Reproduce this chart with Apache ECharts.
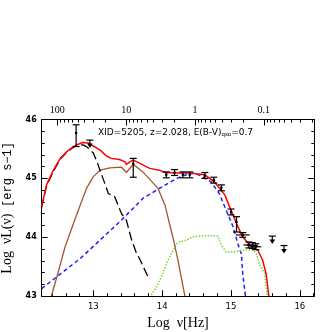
<!DOCTYPE html>
<html>
<head>
<meta charset="utf-8">
<script src="https://cdn.jsdelivr.net/npm/echarts@6/dist/echarts.min.js"></script>
<style>
  html, body { margin: 0; padding: 0; background: #fff; }
  #main { width: 332px; height: 332px; }
</style>
</head>
<body>
<div id="main"></div>
<script>
// total model (red)
const totalSed = [
  [12.25, 44.53], [12.32, 44.89], [12.42, 45.14], [12.52, 45.34], [12.61, 45.45],
  [12.71, 45.54], [12.78, 45.58], [12.85, 45.61], [12.93, 45.60], [13.00, 45.55],
  [13.10, 45.48], [13.19, 45.38], [13.26, 45.34], [13.38, 45.32], [13.46, 45.28],
  [13.48, 45.24], [13.53, 45.28], [13.58, 45.31], [13.67, 45.26], [13.82, 45.17],
  [13.96, 45.14], [14.04, 45.10], [14.21, 45.09], [14.40, 45.09], [14.42, 45.10],
  [14.62, 45.06], [14.76, 44.94], [14.91, 44.72], [15.00, 44.46], [15.10, 44.18],
  [15.17, 44.01], [15.27, 43.87], [15.39, 43.78], [15.46, 43.61], [15.51, 43.38],
  [15.53, 43.19], [15.55, 43.00]
];
// cold dust (black long dash)
const coldDust = [
  [12.25, 44.51], [12.32, 44.87], [12.42, 45.12], [12.52, 45.33], [12.61, 45.44],
  [12.71, 45.53], [12.78, 45.57], [12.85, 45.57], [12.90, 45.54], [13.00, 45.43],
  [13.07, 45.23], [13.14, 45.00], [13.22, 44.74], [13.31, 44.69], [13.41, 44.40],
  [13.48, 44.29], [13.55, 43.98], [13.63, 43.72], [13.67, 43.64], [13.79, 43.34]
];
// hot dust / torus (brown)
const torus = [
  [12.39, 43.00], [12.49, 43.41], [12.59, 43.84], [12.71, 44.23], [12.81, 44.55],
  [12.90, 44.83], [13.00, 45.03], [13.10, 45.14], [13.24, 45.18], [13.41, 45.19],
  [13.48, 45.10], [13.58, 45.24], [13.72, 45.11], [13.94, 44.83], [14.04, 44.55],
  [14.13, 44.12], [14.16, 43.98], [14.23, 43.61], [14.33, 43.00]
];
// accretion disk (blue dash)
const disk = [
  [12.25, 43.13], [12.81, 43.64], [13.38, 44.26], [13.72, 44.66], [13.96, 44.83],
  [14.21, 45.00], [14.37, 45.07], [14.47, 45.09], [14.57, 45.04], [14.71, 44.94],
  [14.83, 44.74], [14.93, 44.46], [15.03, 44.18], [15.10, 43.89], [15.15, 43.72],
  [15.17, 43.38], [15.21, 43.00]
];
// host galaxy (green dotted)
const host = [
  [13.84, 43.02], [13.92, 43.16], [14.01, 43.38], [14.06, 43.55], [14.13, 43.72],
  [14.21, 43.89], [14.25, 43.92], [14.35, 43.95], [14.45, 44.01], [14.54, 44.02],
  [14.69, 44.03], [14.81, 44.02], [14.86, 43.87], [14.93, 43.75], [15.03, 43.75],
  [15.12, 43.77], [15.22, 43.79], [15.32, 43.78], [15.37, 43.72], [15.41, 43.55],
  [15.49, 43.38], [15.51, 43.16], [15.53, 43.00]
];

// photometry with error bars
const obsLogNu = [12.75, 13.58, 14.06, 14.18, 14.30, 14.40, 14.62, 14.75, 14.86, 15.00, 15.08, 15.17, 15.26, 15.31, 15.36];
const obsLogL  = [45.77, 45.25, 45.06, 45.10, 45.06, 45.06, 45.05, 44.97, 44.84, 44.43, 44.26, 44.04, 43.87, 43.86, 43.84];
const obsLow   = [45.54, 45.02, 45.01, 45.05, 45.01, 45.01, 45.00, 44.92, 44.79, 44.38, 44.09, 44.00, 43.82, 43.81, 43.79];
const obsHigh  = [45.91, 45.34, 45.11, 45.15, 45.11, 45.11, 45.10, 45.02, 44.89, 44.48, 44.35, 44.08, 43.92, 43.91, 43.89];
const obsXErr  = [0, 0, 0, 0, 0, 0, 0, 0, 0, 0, 0, 0.1, 0.08, 0.08, 0.08];

// upper limits
const limLogNu = [12.95, 15.60, 15.77];
const limLogL  = [45.65, 44.02, 43.86];

// axis ticks
const xMajor = [13, 14, 15, 16];
const xMinor = [12.4, 12.6, 12.8, 13.2, 13.4, 13.6, 13.8, 14.2, 14.4, 14.6, 14.8, 15.2, 15.4, 15.6, 15.8, 16.2];
const lambdaMajor = [100, 10, 1, 0.1]; // micron
const lambdaDecades = [10, 1, 0.1, 0.01];

const X_MIN = 12.25, X_MAX = 16.21;
const toLogNu = (um) => Math.log10(3e14 / um);
const topMajor = lambdaMajor.map(toLogNu);
const topMinor = [];
lambdaDecades.forEach((d) => {
  for (let k = 2; k <= 9; k++) {
    const v = toLogNu(k * d);
    if (v > X_MIN && v < X_MAX) topMinor.push(v);
  }
});

const obsData = obsLogNu.map((x, i) => [x, obsLogL[i], obsLow[i], obsHigh[i], obsXErr[i]]);
const limData = limLogNu.map((x, i) => [x, limLogL[i]]);

const chart = echarts.init(document.getElementById('main'));
const ink = '#000';
const tickFont = { color: ink, fontFamily: 'DejaVu Sans', fontSize: 8 };

function errorBar(params, api) {
  const x = api.value(0), y = api.value(1);
  const c = api.coord([x, y]);
  const lo = api.coord([x, api.value(2)]);
  const hi = api.coord([x, api.value(3)]);
  const xe = api.value(4);
  const st = { stroke: ink, lineWidth: 1.2 };
  const w = 3.5;
  const kids = [
    { type: 'line', shape: { x1: c[0], y1: lo[1], x2: c[0], y2: hi[1] }, style: st },
    { type: 'line', shape: { x1: c[0] - w, y1: lo[1], x2: c[0] + w, y2: lo[1] }, style: st },
    { type: 'line', shape: { x1: c[0] - w, y1: hi[1], x2: c[0] + w, y2: hi[1] }, style: st },
    { type: 'circle', shape: { cx: c[0], cy: c[1], r: 1.3 }, style: { fill: ink } }
  ];
  if (xe > 0) {
    const l = api.coord([x - xe, y]), r = api.coord([x + xe, y]);
    kids.push({ type: 'line', shape: { x1: l[0], y1: c[1], x2: r[0], y2: c[1] }, style: st });
  }
  return { type: 'group', children: kids };
}

function upperLimit(params, api) {
  const c = api.coord([api.value(0), api.value(1)]);
  const st = { stroke: ink, lineWidth: 1.2 };
  return {
    type: 'group',
    children: [
      { type: 'line', shape: { x1: c[0] - 3.5, y1: c[1], x2: c[0] + 3.5, y2: c[1] }, style: st },
      { type: 'line', shape: { x1: c[0], y1: c[1], x2: c[0], y2: c[1] + 6 }, style: st },
      { type: 'polygon', shape: { points: [[c[0] - 2.8, c[1] + 3.5], [c[0] + 2.8, c[1] + 3.5], [c[0], c[1] + 8]] }, style: { fill: ink } }
    ]
  };
}

const option = {
  animation: false,
  backgroundColor: '#fff',
  grid: { left: 41.7, right: 17.7, top: 119.5, bottom: 35.8, outerBoundsMode: 'none', containLabel: false },
  xAxis: [
    {
      type: 'value', min: X_MIN, max: X_MAX, position: 'bottom',
      name: 'Log  \u03bd[Hz]', nameLocation: 'middle', nameGap: 18,
      nameTextStyle: { color: ink, fontFamily: 'Liberation Serif', fontSize: 14 },
      axisLine: { show: true, lineStyle: { color: ink, width: 1 } },
      axisTick: { show: true, inside: true, length: 6, customValues: xMajor, lineStyle: { color: ink } },
      axisLabel: { ...tickFont, fontSize: 8.5, margin: 6, customValues: xMajor },
      splitLine: { show: false }
    },
    {
      type: 'value', min: X_MIN, max: X_MAX, position: 'top',
      axisLine: { show: true, lineStyle: { color: ink, width: 1 } },
      axisTick: { show: true, inside: true, length: 6, customValues: topMajor, lineStyle: { color: ink } },
      axisLabel: {
        color: ink, fontFamily: 'Liberation Serif', fontSize: 10, margin: 4,
        customValues: topMajor,
        formatter: (v) => {
          const um = 3e14 / Math.pow(10, v);
          return String(Number(um.toPrecision(1)));
        }
      },
      splitLine: { show: false }
    },
    {
      type: 'value', min: X_MIN, max: X_MAX, position: 'bottom',
      axisLine: { show: false },
      axisTick: { show: true, inside: true, length: 3, customValues: xMinor, lineStyle: { color: ink } },
      axisLabel: { show: false },
      splitLine: { show: false }
    },
    {
      type: 'value', min: X_MIN, max: X_MAX, position: 'top',
      axisLine: { show: false },
      axisTick: { show: true, inside: true, length: 3, customValues: topMinor, lineStyle: { color: ink } },
      axisLabel: { show: false },
      splitLine: { show: false }
    }
  ],
  yAxis: [
    {
      type: 'value', min: 43, max: 46, interval: 1, position: 'left',
      name: '{a|Log  \u03bdL(\u03bd)}  {b|[erg s\u22121]}', nameLocation: 'middle', nameGap: 20, nameRotate: 90,
      nameTextStyle: {
        rich: {
          a: { color: ink, fontFamily: 'Liberation Serif', fontSize: 14 },
          b: { color: ink, fontFamily: 'Liberation Mono', fontSize: 12 }
        }
      },
      axisLine: { show: true, lineStyle: { color: ink, width: 1 } },
      axisTick: { show: true, inside: true, length: 6, lineStyle: { color: ink } },
      minorTick: { show: true, splitNumber: 5, length: 3, lineStyle: { color: ink } },
      axisLabel: { ...tickFont, fontWeight: 'bold', margin: 5 },
      splitLine: { show: false }, minorSplitLine: { show: false }
    },
    {
      type: 'value', min: 43, max: 46, interval: 1, position: 'right',
      axisLine: { show: true, lineStyle: { color: ink, width: 1 } },
      axisTick: { show: true, inside: true, length: 6, lineStyle: { color: ink } },
      minorTick: { show: true, splitNumber: 5, length: 3, lineStyle: { color: ink } },
      axisLabel: { show: false },
      splitLine: { show: false }, minorSplitLine: { show: false }
    }
  ],
  graphic: [
    {
      type: 'text', left: 98, top: 128,
      style: {
        text: '{a|XID=5205, z=2.028, E(B-V)}{s|qso}{a|=0.7}',
        rich: {
          a: { fill: ink, fontFamily: 'DejaVu Sans', fontSize: 9 },
          s: { fill: ink, fontFamily: 'DejaVu Sans', fontSize: 5.5, padding: [5, 0, 0, 0] }
        }
      }
    }
  ],
  series: [
    {
      name: 'disk', type: 'line', data: disk, symbol: 'none', clip: true,
      lineStyle: { color: '#1f1fff', width: 1.5, type: [4, 3] }, z: 2
    },
    {
      name: 'host', type: 'line', data: host, symbol: 'none', clip: true,
      lineStyle: { color: '#7fd63a', width: 1.6, type: [1.5, 1.5] }, z: 2
    },
    {
      name: 'torus', type: 'line', data: torus, symbol: 'none', clip: true,
      lineStyle: { color: '#a0582c', width: 1.3 }, z: 2
    },
    {
      name: 'cold', type: 'line', data: coldDust, symbol: 'none', clip: true,
      lineStyle: { color: ink, width: 1.3, type: [9, 4] }, z: 3
    },
    {
      name: 'total', type: 'line', data: totalSed, symbol: 'none', clip: true,
      lineStyle: { color: '#ff0000', width: 1.5 }, z: 4
    },
    {
      name: 'obs', type: 'custom', data: obsData, renderItem: errorBar, z: 5
    },
    {
      name: 'limits', type: 'custom', data: limData, renderItem: upperLimit, z: 5
    }
  ]
};

chart.setOption(option);
</script>
</body>
</html>
